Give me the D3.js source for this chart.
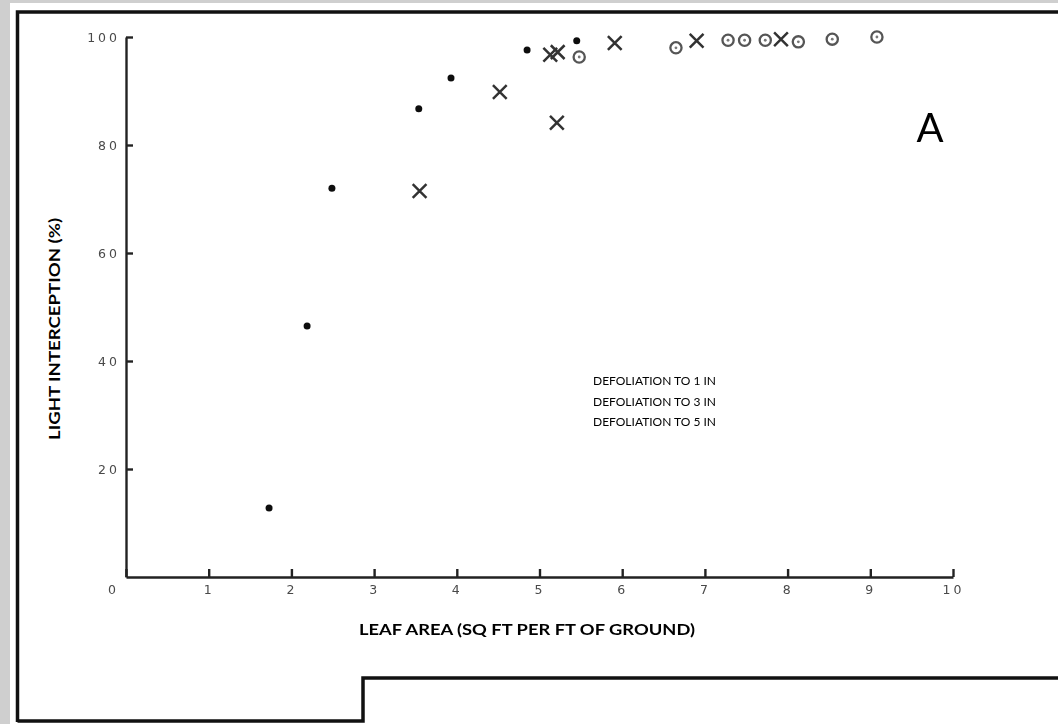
<!DOCTYPE html>
<html>
<head>
<meta charset="utf-8">
<title>Light interception</title>
<style>
  body { margin: 0; background: #fff; }
  svg { display: block; }
  .tick text { font-family: "DejaVu Sans", sans-serif; font-size: 12.5px; fill: #4a4a4a; letter-spacing: 3px; }
  .tick line, .domain { stroke: #222; stroke-width: 2.4; }
  .title { font-family: Lato, "Open Sans", sans-serif; font-weight: bold; fill: #000; }
  .legend text { font-family: Lato, "Open Sans", sans-serif; font-size: 12px; fill: #000; }
</style>
</head>
<body>
<svg width="1058" height="724"></svg>
<script src="https://d3js.org/d3.v7.min.js"></script>
<script>
// leaf area (sq ft per ft of ground) vs light interception (%)
var dotSeries = [[1.73, 12.8], [2.19, 46.5], [2.49, 72.0], [3.54, 86.7], [3.93, 92.4], [4.85, 97.6], [5.45, 99.3]];
var crossSeries = [[3.55, 71.5], [4.52, 89.8], [5.21, 84.1], [5.13, 96.7], [5.22, 97.2], [5.91, 98.9], [6.90, 99.3], [7.92, 99.6]];
var ringSeries = [[5.48, 96.3], [6.65, 98.0], [7.28, 99.4], [7.48, 99.4], [7.73, 99.4], [8.13, 99.1], [8.54, 99.6], [9.08, 100]];

var xTicks = [0, 1, 2, 3, 4, 5, 6, 7, 8, 9, 10];
var yTicks = [20, 40, 60, 80, 100];
var legendLabels = ["DEFOLIATION TO 1 IN", "DEFOLIATION TO 3 IN", "DEFOLIATION TO 5 IN"];

var svg = d3.select("svg");

// scanned page frame
svg.append("rect").attr("width", 1058).attr("height", 724).attr("fill", "#cfcfcf");
svg.append("rect").attr("x", 10).attr("y", 3).attr("width", 1048).attr("height", 721).attr("fill", "#fff");
svg.append("path")
    .attr("d", "M17.5,722 L17.5,12 L1058,12")
    .attr("fill", "none").attr("stroke", "#111").attr("stroke-width", 3.5);
svg.append("path")
    .attr("d", "M17.5,721 L363,721 L363,678 L1058,678")
    .attr("fill", "none").attr("stroke", "#111").attr("stroke-width", 3.5);

var defs = svg.append("defs");
defs.append("filter").attr("id", "scan")
  .append("feGaussianBlur").attr("stdDeviation", 0.55);

var x = d3.scaleLinear().domain([0, 10]).range([126, 953]);
var y = d3.scaleLinear().domain([0, 100]).range([577, 37]);

var g = svg.append("g").attr("filter", "url(#scan)");

var xAxis = g.append("g")
    .attr("transform", "translate(0," + y(0) + ")")
    .call(d3.axisBottom(x).tickValues(xTicks).tickSizeInner(-8).tickSizeOuter(0).tickPadding(8));
xAxis.selectAll(".tick text").filter(function(d) { return d === 0; }).attr("dx", -13);

var yAxis = g.append("g")
    .attr("transform", "translate(" + x(0) + ",0)")
    .call(d3.axisLeft(y).tickValues(yTicks).tickSizeInner(-7).tickSizeOuter(0).tickPadding(9));
yAxis.selectAll(".tick text").attr("dx", "3px");

// marks
g.selectAll(".dot")
  .data(dotSeries)
  .enter().append("circle")
    .attr("class", "dot")
    .attr("cx", function(d) { return x(d[0]); })
    .attr("cy", function(d) { return y(d[1]); })
    .attr("r", 3.5)
    .attr("fill", "#111");

var cross = d3.symbol().type(d3.symbolTimes).size(125);
g.selectAll(".cross")
  .data(crossSeries)
  .enter().append("path")
    .attr("class", "cross")
    .attr("d", cross)
    .attr("transform", function(d) { return "translate(" + x(d[0]) + "," + y(d[1]) + ")"; })
    .attr("fill", "none")
    .attr("stroke", "#333")
    .attr("stroke-width", 2.5);

var ring = g.selectAll(".ring")
  .data(ringSeries)
  .enter().append("g")
    .attr("class", "ring")
    .attr("transform", function(d) { return "translate(" + x(d[0]) + "," + y(d[1]) + ")"; });
ring.append("circle").attr("r", 5.6).attr("fill", "none").attr("stroke", "#555").attr("stroke-width", 2.3);
ring.append("circle").attr("r", 1.4).attr("fill", "#777");

// titles
svg.append("text")
    .attr("class", "title")
    .attr("transform", "translate(60,329) rotate(-90)")
    .attr("text-anchor", "middle")
    .attr("font-size", 15)
    .attr("textLength", 222)
    .attr("lengthAdjust", "spacingAndGlyphs")
    .text("LIGHT INTERCEPTION (%)");

svg.append("text")
    .attr("class", "title")
    .attr("x", 527).attr("y", 635)
    .attr("text-anchor", "middle")
    .attr("font-size", 15)
    .attr("textLength", 336)
    .attr("lengthAdjust", "spacingAndGlyphs")
    .text("LEAF AREA (SQ FT PER FT OF GROUND)");

svg.append("text")
    .attr("x", 930).attr("y", 142)
    .attr("text-anchor", "middle")
    .attr("font-family", "Lato, 'Open Sans', sans-serif")
    .attr("font-size", 40)
    .text("A");

var legend = svg.append("g").attr("class", "legend");
legend.selectAll("text")
  .data(legendLabels)
  .enter().append("text")
    .attr("x", 593)
    .attr("y", function(d, i) { return 385 + i * 20.5; })
    .text(function(d) { return d; });
</script>
</body>
</html>
